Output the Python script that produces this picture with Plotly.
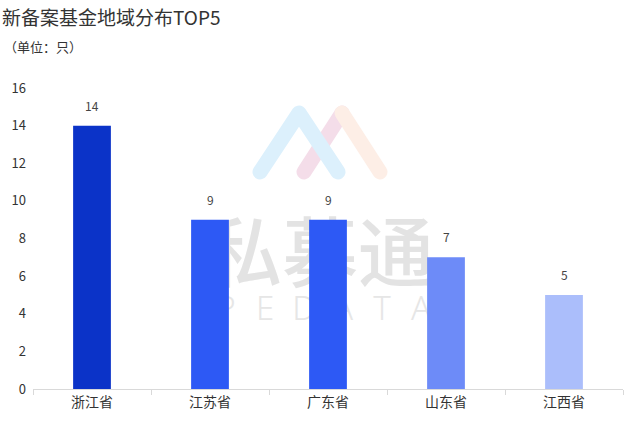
import base64
import plotly.graph_objects as go

categories = ["浙江省", "江苏省", "广东省", "山东省", "江西省"]
values = [14, 9, 9, 7, 5]
bar_colors = ["#0B33C8", "#2D59F5", "#2D59F5", "#6D8BF8", "#ABBEFB"]
y_ticks = [0, 2, 4, 6, 8, 10, 12, 14, 16]

title_text = "新备案基金地域分布TOP5"
unit_text = "（单位：只）"

FONT = "Noto Sans CJK SC, Microsoft YaHei, sans-serif"

# plot area in pixels
L, R, T, B = 33, 17, 88, 35
PW, PH = 640 - L - R, 424 - T - B

# watermark (drawn below bars) as an SVG image
letters = "PEDATA"
letter_svg = "".join(
    f'<text x="{193 + i*39}" y="232" text-anchor="middle" font-family="Noto Sans, DejaVu Sans" '
    f'font-weight="300" font-size="33" fill="#e6e6e6">{ch}</text>'
    for i, ch in enumerate(letters)
)
svg = f'''<svg xmlns="http://www.w3.org/2000/svg" width="{PW}" height="{PH}" viewBox="0 0 {PW} {PH}">
<g fill="none" stroke-linecap="round" stroke-linejoin="round" stroke-width="15">
<polyline points="271,84 309,25" stroke="#f4dde9"/>
<polyline points="309,25 347,84" stroke="#fdeee6"/>
<polyline points="227,84 266,25 305,84" stroke="#dcf0fc"/>
</g>
<text x="287" y="193" text-anchor="middle" font-family="Noto Sans CJK SC" font-weight="500" font-size="76" fill="#e3e3e3">私募通</text>
{letter_svg}
</svg>'''
svg_uri = "data:image/svg+xml;base64," + base64.b64encode(svg.encode("utf-8")).decode()

fig = go.Figure()
fig.add_trace(go.Bar(
    x=categories, y=values,
    marker=dict(color=bar_colors, line=dict(width=0)),
    width=0.32,
    hoverinfo="x+y",
))

value_labels = [
    dict(x=c, y=v, xref="x", yref="y", text=str(v), showarrow=False,
         yanchor="bottom", yshift=10,
         font=dict(size=12, color="#444444", family=FONT))
    for c, v in zip(categories, values)
]

fig.update_layout(
    width=640, height=424,
    margin=dict(l=L, r=R, t=T, b=B),
    paper_bgcolor="white",
    plot_bgcolor="rgba(0,0,0,0)",
    font=dict(family=FONT, color="#333333"),
    showlegend=False,
    images=[dict(source=svg_uri, xref="paper", yref="paper", x=0, y=1,
                 sizex=1, sizey=1, xanchor="left", yanchor="top",
                 sizing="stretch", layer="below")],
    annotations=value_labels + [
        dict(text=title_text, xref="paper", yref="paper", x=-L / PW, y=1 + (T - 17) / PH,
             xanchor="left", yanchor="middle", showarrow=False,
             font=dict(size=19, color="#333333", family=FONT)),
        dict(text=unit_text, xref="paper", yref="paper", x=-L / PW + 2 / PW, y=1 + (T - 47) / PH,
             xanchor="left", yanchor="middle", showarrow=False,
             font=dict(size=13, color="#333333", family=FONT)),
    ],
)
fig.update_xaxes(
    type="category", automargin=False,
    showline=True, linecolor="#d9d9d9", linewidth=1,
    ticks="outside", tickson="boundaries", ticklen=5, tickcolor="#d9d9d9",
    tickfont=dict(size=14, color="#333333", family=FONT),
    showgrid=False, zeroline=False,
)
fig.update_yaxes(
    range=[0, 16], tickvals=y_ticks, automargin=False,
    showgrid=False, zeroline=False, showline=False,
    tickfont=dict(size=13, color="#333333", family=FONT),
    ticklabelstandoff=6,
)

fig.write_html("out.html", config={"displayModeBar": False},
               post_script="document.body.style.margin='0';document.body.style.overflow='hidden';")
